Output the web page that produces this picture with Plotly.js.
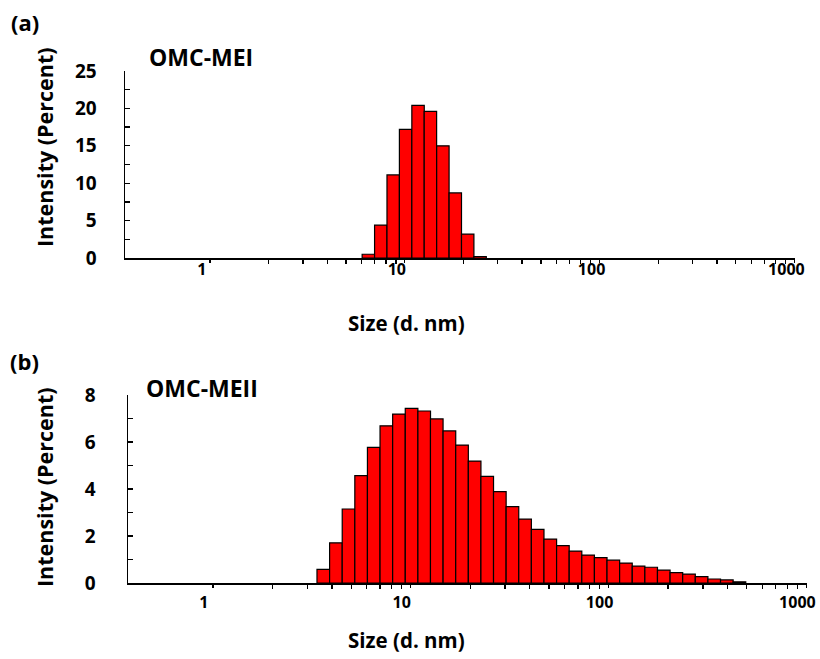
<!DOCTYPE html>
<html><head><meta charset="utf-8">
<script src="https://cdn.plot.ly/plotly-3.0.1.min.js"></script>
<style>html,body{margin:0;padding:0;background:#fff}#chart{width:820px;height:659px}</style>
</head><body><div id="chart"></div>
<script>
// Panel (a) OMC-MEI
const sizesA = [6.503, 7.531, 8.721, 10.1, 11.7, 13.54, 15.69, 18.17, 21.04, 24.36];
const intensityA = [0.5, 4.4, 11.1, 17.2, 20.4, 19.6, 15.0, 8.7, 3.2, 0.2];
// Panel (b) OMC-MEII
const sizesB = [3.615, 4.187, 4.849, 5.615, 6.503, 7.531, 8.721, 10.1, 11.7, 13.54,
  15.69, 18.17, 21.04, 24.36, 28.21, 32.67, 37.84, 43.82, 50.75, 58.77,
  68.06, 78.82, 91.28, 105.7, 122.4, 141.8, 164.2, 190.1, 220.2, 255.0,
  295.3, 342.0, 396.1, 458.7];
const intensityB = [0.58, 1.71, 3.15, 4.57, 5.77, 6.69, 7.19, 7.43, 7.32, 6.98,
  6.47, 5.87, 5.19, 4.54, 3.89, 3.25, 2.72, 2.28, 1.87, 1.59,
  1.36, 1.19, 1.08, 0.97, 0.85, 0.72, 0.67, 0.55, 0.44, 0.38,
  0.27, 0.17, 0.13, 0.05];
const xTickVals = [1, 10, 100, 1000];
const xTickText = ['1', '10', '100', '1000'];
const yTickValsA = [0, 5, 10, 15, 20, 25];
const yTickValsB = [0, 2, 4, 6, 8];

// bin edges (log-spaced bins): geometric half-step on each side
function binGeom(sizes) {
  const r = Math.sqrt(sizes[1] / sizes[0]);
  return {
    offset: sizes.map(s => s / r - s),
    width: sizes.map(s => s * r - s / r)
  };
}
const gA = binGeom(sizesA), gB = binGeom(sizesB);

const minorVals = [];
for (const dec of [1, 10, 100]) for (let k = 2; k <= 9; k++) minorVals.push(dec * k);

const F = 'Open Sans, Arial, sans-serif';
const xTickFont = {family: F, size: 16, color: '#000', weight: 'bold'};
const yTickFont = {family: F, size: 19, color: '#000', weight: 'bold'};
const barStyle = {color: '#ff0000', line: {color: '#000', width: 1.2}};

const traces = [
  {type: 'bar', x: sizesA, y: intensityA, offset: gA.offset, width: gA.width,
   marker: barStyle, xaxis: 'x', yaxis: 'y', hoverinfo: 'x+y'},
  {type: 'bar', x: sizesB, y: intensityB, offset: gB.offset, width: gB.width,
   marker: barStyle, xaxis: 'x2', yaxis: 'y2', hoverinfo: 'x+y'}
];

function xAxis(dom, rng, anchor, standoff, shift) {
  return {type: 'log', domain: dom, range: rng, anchor: anchor,
    tickmode: 'array', tickvals: xTickVals, ticktext: xTickText,
    ticks: 'outside', ticklen: 3, tickwidth: 1.3, tickcolor: '#000',
    showline: true, linecolor: '#000', linewidth: 1.5,
    showgrid: false, zeroline: false, tickfont: xTickFont,
    ticklabelstandoff: standoff, ticklabelshift: shift, ticklabeloverflow: 'allow',
    minor: {tickmode: 'array', tickvals: minorVals, ticks: 'outside', ticklen: 4,
            tickwidth: 1.3, tickcolor: '#000', showgrid: false}};
}
function yAxis(dom, rng, vals, mdt, anchor, standoff) {
  return {domain: dom, range: rng, anchor: anchor,
    tickmode: 'array', tickvals: vals,
    ticks: 'inside', ticklen: 5, tickwidth: 1.3, tickcolor: '#000',
    showline: true, linecolor: '#000', linewidth: 1.5,
    showgrid: false, zeroline: false, tickfont: yTickFont, ticklabelstandoff: standoff,
    minor: {dtick: mdt, ticks: 'inside', ticklen: 5, tickwidth: 1.3, tickcolor: '#000', showgrid: false}};
}
const W = 820, H = 659;
const px = x => x / W, py = y => 1 - y / H;

function ann(text, x, y, size, angle) {
  return {text: text, xref: 'paper', yref: 'paper', x: px(x), y: py(y),
    xanchor: 'center', yanchor: 'middle', showarrow: false, textangle: angle || 0,
    font: {family: F, size: size, color: '#000', weight: 'bold'}};
}

const layout = {
  width: W, height: H, margin: {l: 0, r: 0, t: 0, b: 0},
  paper_bgcolor: '#fff', plot_bgcolor: 'rgba(0,0,0,0)', showlegend: false,
  bargap: 0,
  xaxis: xAxis([125 / W, 795 / W], [-0.436, 3.003], 'y', -7, -8),
  yaxis: yAxis([py(258), py(71)], [0, 25], yTickValsA, 2.5, 'x', 23),
  xaxis2: xAxis([128 / W, 807 / W], [-0.429, 3.003], 'y2', 1, -9),
  yaxis2: yAxis([py(583), py(395)], [0, 8], yTickValsB, 1, 'x2', 27),
  annotations: [
    ann('(a)', 25, 22, 22),
    ann('OMC-MEI', 201, 57, 23),
    ann('Intensity (Percent)', 45, 147, 21.5, -90),
    ann('Size (d. nm)', 406, 323, 20.5),
    ann('(b)', 24, 361, 22),
    ann('OMC-MEII', 202, 388, 23),
    ann('Intensity (Percent)', 45, 487, 21.5, -90),
    ann('Size (d. nm)', 406, 640, 20.5)
  ]
};
Plotly.newPlot('chart', traces, layout, {displayModeBar: false, staticPlot: true});
</script>
</body></html>
